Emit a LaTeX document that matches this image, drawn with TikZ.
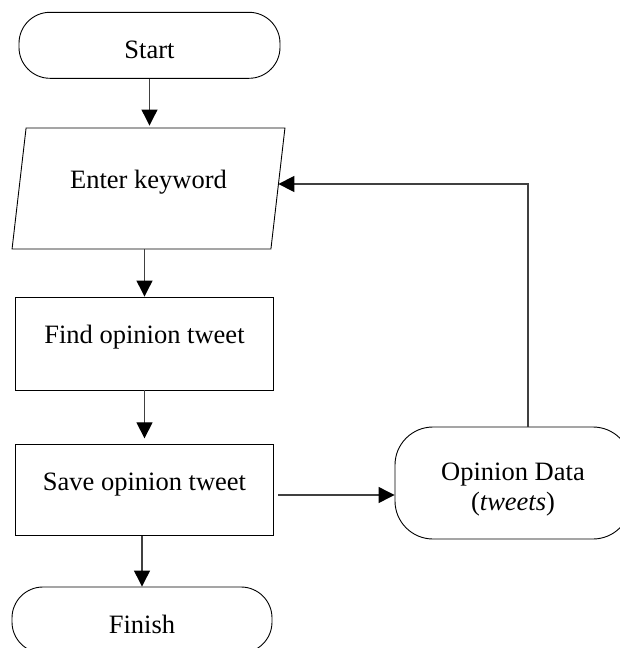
\documentclass[tikz,border=0pt]{standalone}
\usepackage{fontspec}
\setmainfont{Liberation Serif}
\usetikzlibrary{shapes.geometric,arrows.meta}

\begin{document}
\begin{tikzpicture}[x=1pt,y=-1pt,
    every node/.style={font=\fontsize{26.5}{30}\selectfont,draw,line width=0.9pt,inner sep=0pt},
    term/.style={rounded corners=31pt,minimum width=261pt,minimum height=66pt,text height=27pt,text depth=0pt},
    proc/.style={rectangle,minimum width=258pt,minimum height=93pt,text height=18pt,text depth=18pt},
    io/.style={trapezium,trapezium left angle=76,trapezium right angle=104,trapezium stretches=true,minimum width=273pt,minimum height=121pt,text height=18pt,text depth=18pt},
    flow/.style={line width=1.2pt,black!75,-{Triangle[length=16pt,width=16pt,color=black]}}]
            \useasboundingbox (0,0) rectangle (619,648);
            \node[term] (start) at (149.5,45.3) {Start};
            \node[io] (enter) at (148.5,188.5) {Enter keyword};
            \node[proc] (find) at (144.5,343.5) {Find opinion tweet};
            \node[proc,minimum height=91pt] (save) at (144.5,490.3) {Save opinion tweet};
            \node[term,minimum width=260pt] (finish) at (142,620) {Finish};
            \node[term,rounded corners=38pt,minimum width=236pt,minimum height=112pt,align=center,text height=60pt,text depth=6pt] (opinion) at (513,483) {Opinion Data\\(\textit{tweets})};
            \coordinate (tap) at (278,495);
            \coordinate (turn) at (528,184);
            \draw[flow,shorten >=2pt] (start.south) -- (start.south |- enter.north);
            \draw[flow] (enter.south -| find.north) -- (find.north);
            \draw[flow,shorten >=6pt] (find.south) -- (save.north);
            \draw[flow] (save.south -| finish.north) -- (finish.north);
            \draw[flow] (tap) -- (tap -| opinion.west);
            \draw[flow] (opinion.north -| turn) -- (turn) -- (turn -| enter.east);
        \end{tikzpicture}
\end{document}
